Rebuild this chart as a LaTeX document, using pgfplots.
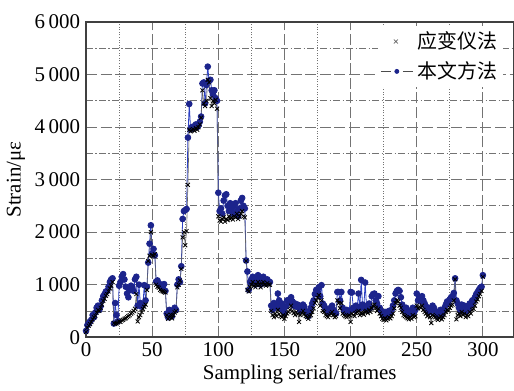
\documentclass[border=0pt]{standalone}
\usepackage{fontspec}
\setmainfont{Liberation Serif}
\newfontfamily\tnr{Liberation Serif}
\newfontfamily\cjk{Noto Sans CJK SC}
\usepackage{pgfplots}
\usepackage{pgfplotstable}
\pgfplotsset{compat=1.18}
\definecolor{myblue}{RGB}{28,36,140}
\definecolor{lineblue}{RGB}{45,65,195}

\pgfplotstableread[row sep=\\]{
x b k\\
0 120 100\\ 1 230 180\\ 2 260 220\\ 3 300 250\\ 4 330 290\\ 5 420 340\\ 6 380 380\\ 7 470 410\\ 8 560 470\\ 9 600 520\\
10 520 500\\ 11 590 560\\ 12 700 620\\ 13 780 690\\ 14 820 730\\ 15 870 790\\ 16 880 820\\ 17 960 870\\ 18 1050 930\\ 19 1100 980\\
20 1120 1050\\ 21 260 270\\ 22 650 250\\ 23 420 260\\ 24 300 280\\ 25 980 300\\ 26 1050 290\\ 27 1150 320\\ 28 1200 330\\ 29 1100 350\\
30 960 360\\ 31 830 380\\ 32 760 400\\ 33 900 420\\ 34 980 450\\ 35 950 470\\ 36 880 500\\ 37 1100 540\\ 38 1150 820\\ 39 600 300\\
40 1000 380\\ 41 650 420\\ 42 580 480\\ 43 620 540\\ 44 990 580\\ 45 700 620\\ 46 960 900\\ 47 1420 1450\\ 48 1780 1550\\ 49 2130 2000\\
50 1600 1560\\ 51 1680 1550\\ 52 1560 1580\\ 53 1060 1000\\ 54 1080 960\\ 55 1020 940\\ 56 980 900\\ 57 1000 880\\ 58 950 870\\ 59 1010 860\\
60 880 850\\ 61 450 420\\ 62 380 350\\ 63 520 380\\ 64 480 430\\ 65 400 360\\ 66 500 420\\ 67 560 470\\ 68 520 500\\ 69 1000 950\\
70 1100 1000\\ 71 1050 1080\\ 72 1350 1300\\ 73 2250 1900\\ 74 2400 2000\\ 75 2420 1750\\ 76 2440 2020\\ 77 3800 2900\\ 78 4440 3950\\ 79 3960 3920\\
80 4000 3940\\ 81 3980 3960\\ 82 4020 3930\\ 83 4050 3980\\ 84 4000 3950\\ 85 4030 4000\\ 86 4100 4050\\ 87 4200 4180\\ 88 4830 4700\\ 89 4850 4450\\
90 4450 4400\\ 91 4800 4500\\ 92 5150 4900\\ 93 4880 4850\\ 94 4900 4550\\ 95 4700 4400\\ 96 4620 4500\\ 97 4700 4450\\ 98 4550 4520\\ 99 4500 4350\\
100 2750 2300\\ 101 2400 2220\\ 102 2450 2200\\ 103 2350 2250\\ 104 2600 2280\\ 105 2700 2200\\ 106 2720 2250\\ 107 2500 2230\\ 108 2400 2300\\ 109 2550 2250\\
110 2450 2280\\ 111 2350 2240\\ 112 2500 2300\\ 113 2550 2280\\ 114 2400 2350\\ 115 2300 2250\\ 116 2450 2300\\ 117 2600 2350\\ 118 2650 2400\\ 119 2500 2300\\
120 2450 2280\\ 121 1460 1450\\ 122 1250 900\\ 123 900 870\\ 124 1050 950\\ 125 1100 1000\\ 126 1150 1050\\ 127 1050 980\\ 128 1000 950\\ 129 1100 1000\\
130 1180 1050\\ 131 1050 1000\\ 132 1000 950\\ 133 1100 1020\\ 134 1150 1050\\ 135 1080 1000\\ 136 1020 980\\ 137 1100 1030\\ 138 1060 1000\\ 139 1050 1000\\
140 600 500\\ 141 520 420\\ 142 650 380\\ 143 560 450\\ 144 620 400\\ 145 830 520\\ 146 700 440\\ 147 550 400\\ 148 640 380\\ 149 500 420\\
150 450 350\\ 151 580 400\\ 152 700 450\\ 153 650 480\\ 154 720 520\\ 155 760 600\\ 156 680 500\\ 157 600 460\\ 158 640 420\\ 159 580 480\\
160 620 440\\ 161 560 290\\ 162 500 420\\ 163 560 460\\ 164 620 500\\ 165 580 440\\ 166 500 400\\ 167 450 380\\ 168 400 350\\ 169 480 400\\
170 560 420\\ 171 640 480\\ 172 700 550\\ 173 820 650\\ 174 900 700\\ 175 870 750\\ 176 950 800\\ 177 780 600\\ 178 990 700\\ 179 640 500\\
180 600 480\\ 181 550 420\\ 182 520 400\\ 183 470 380\\ 184 500 420\\ 185 560 450\\ 186 600 480\\ 187 520 420\\ 188 480 380\\ 189 450 400\\
190 860 700\\ 191 860 650\\ 192 700 550\\ 193 860 650\\ 194 560 450\\ 195 500 420\\ 196 480 400\\ 197 520 380\\ 198 470 400\\ 199 500 420\\
200 860 290\\ 201 850 450\\ 202 560 420\\ 203 520 400\\ 204 600 460\\ 205 580 480\\ 206 830 500\\ 207 550 420\\ 208 1090 460\\ 209 620 450\\
210 560 430\\ 211 1040 480\\ 212 600 500\\ 213 520 460\\ 214 640 520\\ 215 560 480\\ 216 780 550\\ 217 820 600\\ 218 830 620\\ 219 700 560\\
220 640 500\\ 221 780 540\\ 222 560 450\\ 223 500 400\\ 224 450 350\\ 225 420 330\\ 226 480 360\\ 227 400 320\\ 228 450 350\\ 229 500 380\\
230 460 360\\ 231 520 400\\ 232 600 450\\ 233 700 550\\ 234 830 650\\ 235 880 700\\ 236 900 680\\ 237 880 600\\ 238 760 560\\ 239 620 480\\
240 540 420\\ 241 500 400\\ 242 560 380\\ 243 470 360\\ 244 420 340\\ 245 500 380\\ 246 450 350\\ 247 560 420\\ 248 480 380\\ 249 520 400\\
250 830 600\\ 251 700 550\\ 252 760 580\\ 253 680 560\\ 254 780 600\\ 255 700 520\\ 256 640 480\\ 257 580 450\\ 258 500 400\\ 259 560 420\\
260 480 380\\ 261 520 270\\ 262 600 420\\ 263 560 400\\ 264 500 380\\ 265 450 350\\ 266 400 330\\ 267 470 360\\ 268 520 400\\ 269 430 340\\
270 500 380\\ 271 560 420\\ 272 620 480\\ 273 680 520\\ 274 640 500\\ 275 720 560\\ 276 760 600\\ 277 780 620\\ 278 840 700\\ 279 1120 1100\\
280 700 340\\ 281 640 420\\ 282 560 450\\ 283 500 400\\ 284 620 480\\ 285 520 420\\ 286 600 450\\ 287 480 380\\ 288 560 420\\ 289 520 400\\
290 640 480\\ 291 600 450\\ 292 700 520\\ 293 680 540\\ 294 760 600\\ 295 820 680\\ 296 860 720\\ 297 900 780\\ 298 940 820\\ 299 960 880\\
300 1180 1150\\
}\data

\begin{document}
\begin{tikzpicture}
\begin{axis}[
  scale only axis,
  width=213.5bp, height=157.5bp,
  xmin=0, xmax=323, ymin=0, ymax=6000,
  xtick={0,50,...,300},
  xticklabels={0,50,100,150,200,250,300},
  ytick={0,1000,...,6000},
  yticklabels={0,{1\,000},{2\,000},{3\,000},{4\,000},{5\,000},{6\,000}},
  minor xtick={25,75,...,325},
  minor ytick={500,1500,...,5500},
  grid=both,
  major grid style={black!55, line width=0.4bp, dash pattern=on 5.5bp off 1.8bp},
  minor x grid style={black!55, line width=0.4bp, dash pattern=on 0.5bp off 0.8bp},
  minor y grid style={black!55, line width=0.4bp, dash pattern=on 3.5bp off 1.2bp on 0.6bp off 1.2bp},
  axis line style={black!75, line width=0.7bp},
  tick style={draw=none},
  xticklabel style={font=\tnr\fontsize{10.5}{12}\selectfont, text=black, yshift=1bp},
  yticklabel style={font=\tnr\fontsize{10.5}{12}\selectfont, text=black, xshift=0.5bp},
  label style={font=\tnr\fontsize{10.5}{12}\selectfont, text=black},
  xlabel={Sampling serial/frames},
  ylabel={Strain/με},
  xlabel style={yshift=2.5bp},
  ylabel style={yshift=-2bp},
  legend style={at={(0.977,0.99)}, anchor=north east, draw=none, fill=white,
    font=\cjk\fontsize{10}{12}\selectfont, inner sep=1bp, row sep=1bp,
    /tikz/every even column/.append style={column sep=1bp}},
  legend cell align=left,
  reverse legend,
]
\addplot[lineblue, line width=0.4bp, mark=*, mark size=1.45bp,
  mark options={fill=myblue, draw=myblue, solid},
  legend image code/.code={
    \draw[black!70, line width=0.5bp] (0bp,0bp) -- (5bp,0bp);
    \draw[black!70, line width=0.5bp] (11bp,0bp) -- (16bp,0bp);
    \fill[myblue] (8bp,0bp) circle (1bp);
  }] table[x=x, y=b] {\data};
\addlegendentry{本文方法}
\addplot[black!60, line width=0.3bp, mark=x, mark size=1.4bp,
  mark options={draw=black, line width=0.4bp, solid},
  legend image code/.code={
    \draw[black!60, line width=0.3bp] (6.5bp,-1bp) -- (8.5bp,1bp) (6.5bp,1bp) -- (8.5bp,-1bp);
  }] table[x=x, y=k] {\data};
\addlegendentry{应变仪法}
\end{axis}
\path (current axis.north west) ++(0,11bp) coordinate (topmargin);
\end{tikzpicture}
\end{document}
